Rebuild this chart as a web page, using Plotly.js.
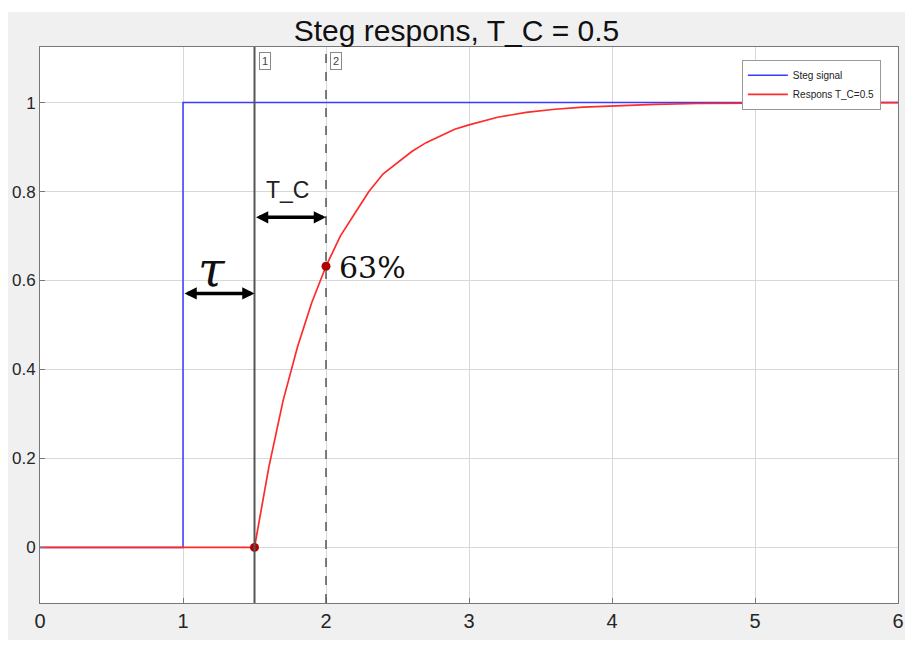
<!DOCTYPE html>
<html><head><meta charset="utf-8">
<script src="https://cdn.plot.ly/plotly-3.0.1.min.js"></script>
<style>html,body{margin:0;padding:0;background:#fff;width:910px;height:646px;overflow:hidden}
#plot{position:absolute;left:8px;top:12px;width:897px;height:628px}</style>
</head><body><div id="plot"></div>
<script>
// Step signal
const stepT = [0, 1, 1, 6];
const stepY = [0, 0, 1, 1];
// Response T_C = 0.5
const respT = [0, 1.5, 1.6, 1.7, 1.8, 1.9, 2.0, 2.1, 2.2, 2.3, 2.4, 2.5, 2.6, 2.7, 2.8, 2.9, 3.0, 3.2, 3.4, 3.6, 3.8, 4.0, 4.3, 4.6, 5.0, 5.5, 6];
const respY = [0, 0, 0.18, 0.33, 0.45, 0.55, 0.632, 0.70, 0.75, 0.80, 0.84, 0.865, 0.89, 0.91, 0.925, 0.94, 0.95, 0.967, 0.978, 0.985, 0.99, 0.993, 0.996, 0.998, 0.999, 1.0, 1.0];
// Marked points
const markT = [1.5, 2.0];
const markY = [0, 0.632];
// Cursor lines
const cursorX = [1.5, 2.0];
const cursorLabels = ['1', '2'];
const xTicks = [0, 1, 2, 3, 4, 5, 6];
const yTicks = [0, 0.2, 0.4, 0.6, 0.8, 1];
const yTickText = ['0', '0.2', '0.4', '0.6', '0.8', '1'];

const traces = [
  {x: stepT, y: stepY, mode: 'lines', name: 'Steg signal', line: {color: '#3a3aff', width: 1.5}},
  {x: respT, y: respY, mode: 'lines', name: 'Respons T_C=0.5', line: {color: '#ff2a2a', width: 1.7}},
  {x: markT, y: markY, mode: 'markers', showlegend: false, marker: {color: '#b00000', size: 9}}
];

const layout = {
  width: 897, height: 628,
  margin: {l: 32, r: 7, t: 35, b: 37},
  paper_bgcolor: '#f0f0f0', plot_bgcolor: '#ffffff',
  font: {family: 'Liberation Sans, Arial, sans-serif', color: '#262626'},
  title: {text: 'Steg respons, T_C = 0.5', font: {size: 30, color: '#111'}, x: 0.5, xanchor: 'center', y: 1 - 18/628, yanchor: 'middle'},
  showlegend: true,
  legend: {x: 0.818, y: 0.977, xanchor: 'left', yanchor: 'top', bgcolor: '#fff', bordercolor: '#999', borderwidth: 1,
           font: {size: 10, color: '#222'}, itemwidth: 40, tracegroupgap: 0},
  xaxis: {range: [0, 6], tickvals: xTicks, ticktext: xTicks.map(String), showgrid: true, gridcolor: '#d8d8d8', gridwidth: 1,
          zeroline: false, showline: true, linecolor: '#777', linewidth: 1, mirror: true, ticks: 'inside', ticklen: 5, tickcolor: '#777',
          tickfont: {size: 20, color: '#262626'}},
  yaxis: {range: [-0.125, 1.125], tickvals: yTicks, ticktext: yTickText, showgrid: true, gridcolor: '#d8d8d8', gridwidth: 1,
          zeroline: false, showline: true, linecolor: '#777', linewidth: 1, mirror: true, ticks: 'inside', ticklen: 5, tickcolor: '#777',
          tickfont: {size: 17, color: '#262626'}},
  shapes: [
    {type: 'line', xref: 'x', yref: 'paper', x0: cursorX[0], x1: cursorX[0], y0: 0, y1: 1, line: {color: '#555', width: 2}},
    {type: 'line', xref: 'x', yref: 'paper', x0: cursorX[1], x1: cursorX[1], y0: 0, y1: 1, line: {color: '#555', width: 1.5, dash: 'dash'}}
  ],
  annotations: [
    {xref: 'x', yref: 'paper', x: cursorX[0], y: 1 - 5/556, xanchor: 'left', yanchor: 'top', xshift: 4, text: cursorLabels[0], showarrow: false,
     font: {size: 11, color: '#444'}, bgcolor: '#fff', bordercolor: '#888', borderwidth: 1, borderpad: 2},
    {xref: 'x', yref: 'paper', x: cursorX[1], y: 1 - 5/556, xanchor: 'left', yanchor: 'top', xshift: 4, text: cursorLabels[1], showarrow: false,
     font: {size: 11, color: '#444'}, bgcolor: '#fff', bordercolor: '#888', borderwidth: 1, borderpad: 2},
    {xref: 'x', yref: 'y', x: 2.0, y: 0.742, axref: 'x', ayref: 'y', ax: 1.5, ay: 0.742, text: '', showarrow: true,
     arrowside: 'end+start', arrowhead: 2, arrowsize: 0.7, arrowwidth: 3.5, arrowcolor: '#000', standoff: 0, startstandoff: 0},
    {xref: 'x', yref: 'y', x: 1.5, y: 0.571, axref: 'x', ayref: 'y', ax: 1.0, ay: 0.571, text: '', showarrow: true,
     arrowside: 'end+start', arrowhead: 2, arrowsize: 0.7, arrowwidth: 3.5, arrowcolor: '#000', standoff: 0, startstandoff: 0},
    {xref: 'x', yref: 'y', x: 1.734, y: 0.804, text: 'T_C', showarrow: false, font: {size: 23, color: '#222', family: 'Liberation Sans, Arial'}},
    {xref: 'x', yref: 'y', x: 1.2, y: 0.625, text: '<i>τ</i>', showarrow: false, font: {size: 48, color: '#111', family: 'DejaVu Serif, serif'}},
    {xref: 'x', yref: 'y', x: 2.077, y: 0.629, xanchor: 'left', text: '63%', showarrow: false, font: {size: 30, color: '#111', family: 'DejaVu Serif, serif'}}
  ]
};

Plotly.newPlot('plot', traces, layout, {displayModeBar: false, staticPlot: true});
</script></body></html>
